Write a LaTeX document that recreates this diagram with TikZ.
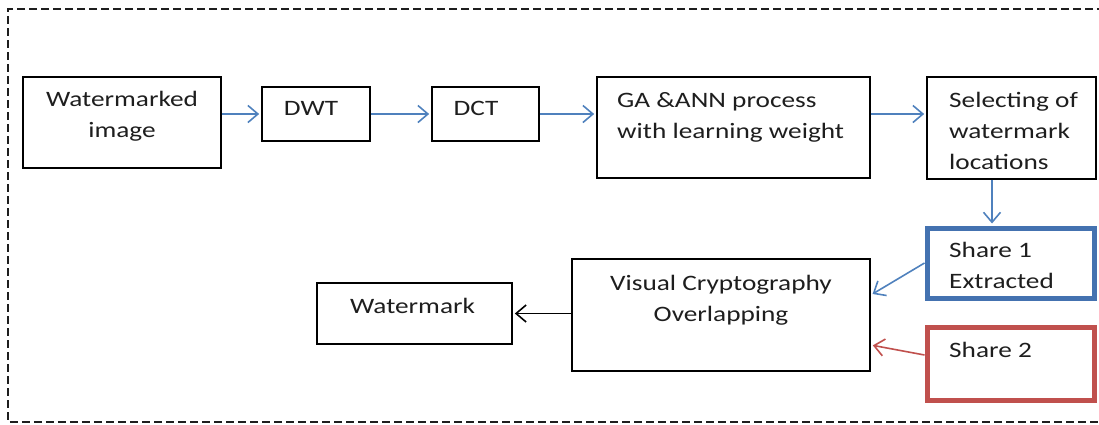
\documentclass[tikz,border=0pt]{standalone}
\usepackage{fontspec}
\setmainfont{Carlito}[FakeStretch=1.24]
\usetikzlibrary{arrows.meta,calc}

\definecolor{flowblue}{RGB}{79,129,189}
\definecolor{shareblue}{RGB}{68,114,176}
\definecolor{sharered}{RGB}{192,80,77}
\definecolor{inkgray}{RGB}{30,30,30}

\tikzset{
  box/.style={draw=black, line width=1.7pt, inner sep=0pt},
  sharebox/.style={draw, line width=5pt, inner sep=0pt},
  lbl/.style={inner sep=0pt, text=inkgray,
    font=\fontsize{22}{31}\selectfont},
  flow/.style={draw=flowblue, line width=1.6pt,
    -{Straight Barb[length=10pt,width=17pt,line width=1.6pt]}, shorten >=2pt},
  backflow/.style={flow, draw=black},
  redflow/.style={flow, draw=sharered},
  frame/.style={draw=inkgray, line width=1.6pt, dash pattern=on 8pt off 4pt}
}

\begin{document}
\begin{tikzpicture}[x=1pt, y=-1pt]
\useasboundingbox (0,0) rectangle (1099,424);
\clip (0,0) rectangle (1099,424);

% surrounding dashed frame (open on the right)
\draw[frame] (1105,9) -- (8,9) -- (8,422) -- (1105,422);

% top row of processing blocks
\node[box, minimum width=198pt, minimum height=91pt]  (wmimg) at (122,122.5) {};
\node[box, minimum width=108pt, minimum height=54pt]  (dwt)   at (316,114) {};
\node[box, minimum width=107pt, minimum height=54pt]  (dct)   at (485.5,114) {};
\node[box, minimum width=273pt, minimum height=101pt] (ga)    at (733.5,127.5) {};
\node[box, minimum width=169pt, minimum height=102pt] (sel)   at (1011.5,128) {};

% shares
\node[sharebox, draw=shareblue, minimum width=167pt, minimum height=70pt] (share1) at (1010.5,263) {};
\node[sharebox, draw=sharered,  minimum width=167pt, minimum height=73pt] (share2) at (1010.5,363.5) {};

% bottom row
\node[box, minimum width=298pt, minimum height=112pt] (vc)  at (721,315) {};
\node[box, minimum width=195pt, minimum height=61pt]  (wmk) at (414.5,313.5) {};

% texts (placed by the top of the first line's strut)
\node[lbl, align=center, anchor=north] (twmimg) at (122,84.3) {\strut Watermarked\\image};
\node[lbl, anchor=base] (tdwt) at (311,115) {DWT};
\node[lbl, anchor=base] (tdct) at (476,115) {DCT};
\node[lbl, align=left, anchor=north west] (tga) at (617,85.3) {\strut GA \&ANN process\\with learning weight};
\node[lbl, align=left, anchor=north west] (tsel) at (949,85.3) {\strut Selecting of\\watermark\\locations};
\node[lbl, align=left, anchor=north west] (tshare1) at (949,235.3) {\strut Share 1\\Extracted};
\node[lbl, anchor=base west] (tshare2) at (949,357) {Share 2};
\node[lbl, align=center, anchor=north] (tvc) at (721,268.3) {\strut Visual Cryptography\\Overlapping};
\node[lbl, anchor=base] (twmk) at (412.5,313) {Watermark};

% connectors
\draw[flow] (wmimg.east |- dwt.west) -- (dwt.west);
\draw[flow] (dwt.east) -- (dct.west);
\draw[flow] (dct.east) -- (dct.east -| ga.west);
\draw[flow] (ga.east |- dct.east) -- (sel.west |- dct.east);
\draw[flow] ([xshift=-19.5pt]sel.south) -- ([xshift=-18.5pt]share1.north);
\draw[flow] (share1.west) -- ([yshift=20pt]vc.east);
\draw[redflow] ([yshift=8.5pt]share2.west) -- ([yshift=-30pt]vc.east);
\draw[backflow] (vc.west |- wmk.east) -- (wmk.east);
\end{tikzpicture}
\end{document}
